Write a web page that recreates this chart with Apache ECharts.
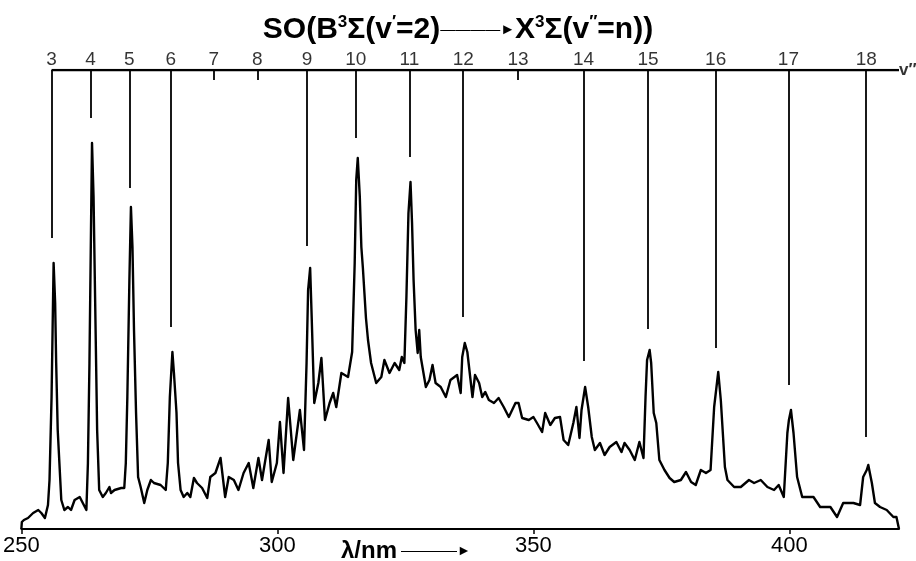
<!DOCTYPE html>
<html>
<head>
<meta charset="utf-8">
<script src="https://cdn.jsdelivr.net/npm/echarts@6/dist/echarts.min.js"></script>
<style>html,body{margin:0;padding:0;background:#fff}#c{width:916px;height:561px}</style>
</head>
<body>
<div id="c"></div>
<script>
// Emission spectrum: wavelength (nm) and relative intensity (arb. units)
const wavelength = [250.0,250.1,250.5,251.3,252.3,253.3,253.9,254.6,255.2,255.5,255.9,256.1,256.3,256.6,256.8,257.1,257.8,258.4,259.1,259.7,260.4,261.4,262.0,262.7,263.0,263.3,263.6,263.8,264.1,264.4,264.8,265.2,265.9,266.5,267.2,267.5,268.2,269.5,270.1,270.4,270.7,271.1,271.4,271.7,272.0,272.4,272.8,273.3,274.0,274.6,275.3,275.9,277.2,278.2,278.6,279.0,279.5,279.8,280.3,280.6,281.1,281.7,282.4,283.0,283.7,284.3,285.3,286.3,286.9,287.9,288.9,289.8,290.5,291.5,292.4,293.4,294.4,295.3,296.3,297.0,298.3,298.9,299.9,300.5,301.2,302.1,303.1,304.4,305.2,305.7,306.0,306.4,306.7,307.2,308.0,308.6,309.3,310.2,310.9,311.5,312.5,313.8,314.6,315.1,315.4,315.7,316.1,316.4,316.7,317.0,317.3,317.7,318.3,319.3,320.3,320.9,321.9,322.9,323.8,324.3,324.8,325.2,325.6,326.0,326.3,326.6,327.0,327.4,327.7,328.0,329.0,329.7,330.3,330.9,331.9,332.9,333.8,335.1,335.8,336.1,336.6,337.1,337.5,338.1,338.6,339.4,340.0,340.6,341.3,342.3,343.2,344.2,345.2,346.5,347.1,347.8,349.1,350.0,350.7,351.7,352.3,353.3,354.2,355.2,355.9,356.8,357.8,358.4,359.0,359.4,360.1,360.7,361.4,362.0,363.0,363.9,364.9,366.2,367.2,367.8,368.8,369.8,370.7,371.5,371.9,372.2,372.7,373.0,373.5,374.0,374.6,375.6,376.6,377.5,378.8,379.8,380.8,381.7,382.7,383.7,384.6,385.3,386.1,386.6,387.4,387.9,389.2,390.5,392.1,393.1,394.4,395.7,397.0,397.9,398.9,399.6,399.9,400.3,400.8,401.5,402.5,403.4,404.7,406.0,408.0,409.3,410.5,412.5,413.8,414.4,415.1,415.4,416.1,416.7,417.7,419.0,420.3,420.9,421.4];
const intensity = [0,7,9,11,16,19,16,11,24,49,132,199,266,226,166,99,29,19,22,19,29,32,26,19,66,166,299,386,332,232,99,39,32,36,42,36,39,41,41,66,132,249,322,282,199,116,52,42,26,39,49,46,44,39,66,132,177,156,116,66,39,32,36,32,51,46,41,31,52,56,71,32,52,49,39,56,66,41,71,49,89,47,66,107,56,131,69,119,79,166,239,261,212,126,146,171,109,126,136,122,156,152,177,266,349,371,332,282,261,236,211,189,166,146,152,169,156,166,159,172,166,232,316,347,306,249,199,176,199,172,142,149,164,146,142,132,149,154,136,172,186,177,159,132,154,146,132,137,129,126,131,122,112,126,126,111,109,112,106,97,116,104,111,112,89,84,106,122,91,119,142,122,92,79,86,74,82,87,77,86,79,69,87,71,132,169,179,166,116,106,69,59,51,47,49,57,47,44,59,56,59,122,157,129,62,49,42,42,49,46,49,42,39,44,32,96,109,119,96,52,32,32,32,22,22,12,26,26,24,52,59,64,46,26,22,19,12,12,0];

// Vibrational levels v'' of X state: assigned wavelengths and where each marker line ends
const vLevels = [3,4,5,6,7,8,9,10,11,12,13,14,15,16,17,18];
const vWavelength = [255.9,263.5,271.1,279.2,287.6,296.1,305.8,315.3,325.8,336.3,347.0,359.8,372.4,385.6,399.8,415.0];
const vLineEnd = [291,411,341,202,449,449,283,391,372,212,449,168,200,181,144,92];

const xTicks = [250,300,350,400];
const xMin = 250, xMax = 421.4, yTop = 459;

const spectrum = wavelength.map((w,i)=>[w,intensity[i]]);
const markerLines = vLevels.map((v,i)=>({coords:[[vWavelength[i],yTop],[vWavelength[i],vLineEnd[i]]]}));
const labelPts = vLevels.map((v,i)=>({value:[vWavelength[i],yTop],name:String(v)}));

const chart = echarts.init(document.getElementById('c'));
const FONT = 'Liberation Sans, Arial, Helvetica, sans-serif';
chart.setOption({
  animation:false,
  backgroundColor:'#fff',
  textStyle:{fontFamily:FONT,color:'#000'},
  title:[{
    left:'center', top:9,
    text:'{t|SO(B}{s|3}{t|Σ(v}{s|′}{t|=2)}{a|————►}{t|X}{s|3}{t|Σ(v}{s|″}{t|=n))}',
    textStyle:{rich:{
      t:{fontFamily:FONT,fontSize:30,fontWeight:'bold',color:'#000',lineHeight:31},
      s:{fontFamily:FONT,fontSize:17,fontWeight:'bold',color:'#000',verticalAlign:'top',lineHeight:31},
      a:{fontFamily:FONT,fontSize:15,fontWeight:'normal',color:'#000',lineHeight:31}
    }}
  },{
    left:336, top:533,
    text:'{t|λ/nm}{a| ————►}',
    textStyle:{rich:{
      t:{fontFamily:FONT,fontSize:24,fontWeight:'bold',color:'#000',lineHeight:26},
      a:{fontFamily:FONT,fontSize:14,fontWeight:'normal',color:'#000',lineHeight:26}
    }}
  }],
  grid:{left:16.5,right:17,top:70,bottom:32},
  xAxis:{
    type:'value', min:xMin, max:xMax, interval:50,
    axisLine:{lineStyle:{color:'#000',width:2}},
    axisTick:{show:true,length:5,lineStyle:{color:'#000',width:1.5}},
    splitLine:{show:false},
    axisLabel:{color:'#000',fontSize:22,fontFamily:FONT,margin:6,showMaxLabel:false,
      formatter:v=>xTicks.includes(v)?String(v):''}
  },
  yAxis:{type:'value',min:0,max:yTop,show:false},
  series:[
    {type:'line',data:spectrum,showSymbol:false,symbol:'none',
      lineStyle:{color:'#000',width:2.4,join:'round'},z:3},
    {type:'line',data:[[vWavelength[0],yTop],[xMax,yTop]],showSymbol:false,symbol:'none',
      lineStyle:{color:'#000',width:2.5},z:4},
    {type:'lines',coordinateSystem:'cartesian2d',data:markerLines,
      lineStyle:{color:'#000',width:1.8,opacity:1},z:4},
    {type:'scatter',data:labelPts,symbolSize:0,
      label:{show:true,position:'top',distance:1,formatter:p=>p.name,
        fontFamily:FONT,fontSize:19,color:'#000'},z:5},
    {type:'scatter',data:[[xMax,yTop]],symbolSize:0,
      label:{show:true,position:'right',distance:0,formatter:'v″',
        fontFamily:FONT,fontSize:17,fontWeight:'bold',color:'#000'},z:5}
  ]
});
</script>
</body>
</html>
